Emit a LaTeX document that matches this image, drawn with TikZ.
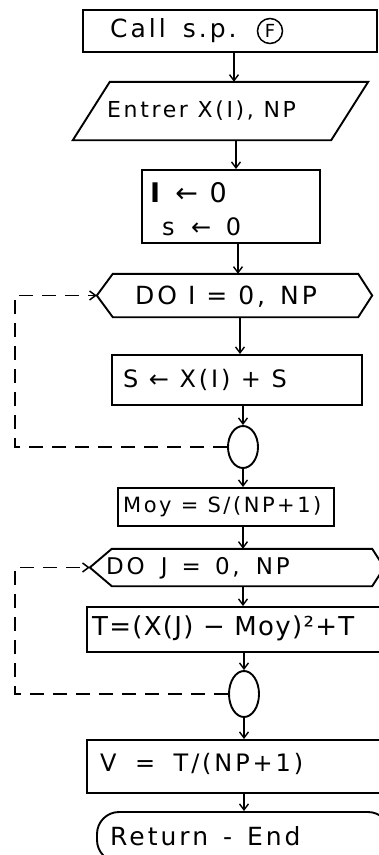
\documentclass[tikz,border=0pt]{standalone}
\usepackage{fontspec}
\setmainfont{DejaVu Sans}[LetterSpace=12]
\usetikzlibrary{arrows.meta,shapes.geometric}
\newcommand{\fsz}[1]{\fontsize{#1}{#1}\selectfont}
\begin{document}
\begin{tikzpicture}[x=1pt,y=-1pt,
  every node/.style={font=\fsz{24}},
  shp/.style={line width=1.9pt},
  blk/.style={draw,line width=1.9pt,rectangle,inner sep=0pt},
  ghost/.style={inner sep=0pt},
  ovl/.style={draw,line width=1.9pt,ellipse,inner sep=0pt,minimum width=30pt},
  txt/.style={anchor=west,inner sep=0pt},
  circf/.style={draw,circle,line width=1.5pt,inner sep=1pt,minimum size=25pt,font=\fsz{18}},
  arr/.style={line width=1.4pt,-{Straight Barb[length=6pt,width=9pt]}},
  dloop/.style={line width=1.5pt,dash pattern=on 14pt off 9pt,-{Straight Barb[length=6pt,width=9pt]}}
]
\useasboundingbox (0,0) rectangle (378,855);
% boxes
\node[blk,minimum width=294pt,minimum height=42pt] (b1) at (230,31) {};
\node[txt,font=\fsz{25}] (t1) at (110,31) {Call\hspace{6pt} s.p.};
\node[circf] (t1f) at (270,31) {F};
\node[ghost,minimum width=295pt,minimum height=58pt] (par) at (220.5,111) {};
\draw[shp] ([xshift=37pt]par.north west) -- (par.north east) -- ([xshift=-37pt]par.south east) -- (par.south west) -- cycle;
\node[txt,font=\fsz{22}] (t2) at (107,111) {Entrer X(I), NP};
\node[blk,minimum width=178pt,minimum height=73pt] (b3) at (231,206.5) {};
\node[txt,font=\fsz{27}] (t3a) at (150,193) {\textbf{I} ← 0};
\node[txt,font=\fsz{24}] (t3b) at (162,227) {s\hspace{6pt} ← \hspace{4pt}0};
\node[ghost,minimum width=275pt,minimum height=43pt] (h1) at (234.5,295.5) {};
\draw[shp] (h1.west) -- ([xshift=16pt]h1.north west) -- ([xshift=-14pt]h1.north east) -- (h1.east) -- ([xshift=-14pt]h1.south east) -- ([xshift=16pt]h1.south west) -- cycle;
\node[txt,font=\fsz{25}] (t4) at (135,297) {DO I = 0,\hspace{4pt} NP};
\node[blk,minimum width=250pt,minimum height=50pt] (b5) at (237,380) {};
\node[txt,font=\fsz{24}] (t5) at (123,380) {S ← X(I) + S};
\node[ovl,minimum height=42pt] (e1) at (243,447) {};
\node[blk,minimum width=216pt,minimum height=38pt] (b6) at (226,507) {};
\node[txt,font=\fsz{21}] (t6) at (123,507) {Moy = S/(NP+1)};
\node[ghost,minimum width=294pt,minimum height=37pt] (h2) at (237,567.5) {};
\draw[shp] (h2.west) -- ([xshift=22pt]h2.north west) -- ([xshift=-12pt]h2.north east) -- (h2.east) -- ([xshift=-12pt]h2.south east) -- ([xshift=22pt]h2.south west) -- cycle;
\node[txt,font=\fsz{23}] (t7) at (106,568) {DO\hspace{6pt} J\hspace{4pt} =\hspace{4pt} 0,\hspace{6pt} NP};
\node[blk,minimum width=295pt,minimum height=45pt] (b8) at (234.5,629.5) {};
\node[txt,font={\fsz{26}\addfontfeature{LetterSpace=5}}] (t8) at (92,628) {T=(X(J) − Moy)²+T};
\node[ovl,minimum height=46pt] (e2) at (244,694) {};
\node[blk,minimum width=295pt,minimum height=53pt] (b9) at (234.5,766.5) {};
\node[txt,font=\fsz{24}] (t9) at (100,764) {V\hspace{8pt} =\hspace{8pt} T/(NP+1)};
\node[blk,rounded corners=22pt,minimum width=293pt,minimum height=50pt] (b10) at (243.5,837) {};
\node[txt,font=\fsz{25}] (t10) at (110,836) {Return\hspace{4pt} -\hspace{4pt} End};
% spine coordinates
\coordinate (c1) at (234,0);
\coordinate (c2) at (236,0);
\coordinate (c3) at (238,0);
\coordinate (c4) at (240,0);
\coordinate (c5) at (243,0);
\coordinate (L) at (15,0);
% connectors
\draw[arr] (b1.south -| c1) -- (par.north -| c1);
\draw[arr] (par.south -| c2) -- (b3.north -| c2);
\draw[arr] (b3.south -| c3) -- (h1.north -| c3);
\draw[arr] (h1.south -| c4) -- (b5.north -| c4);
\draw[arr] (b5.south -| e1) -- (e1.north);
\draw[arr] (e1.south) -- (b6.north -| e1);
\draw[arr] (b6.south -| c5) -- (h2.north -| c5);
\draw[arr] (h2.south -| c5) -- (b8.north -| c5);
\draw[arr] (b8.south -| e2) -- (e2.north);
\draw[arr] (e2.south) -- (b9.north -| e2);
\draw[arr] (b9.south -| e2) -- (b10.north -| e2);
% loops
\draw[dloop] (e1.west) -- (e1.west -| L) |- (h1.west);
\draw[dloop] (e2.west) -- (e2.west -| L) |- (h2.west);
\end{tikzpicture}
\end{document}
